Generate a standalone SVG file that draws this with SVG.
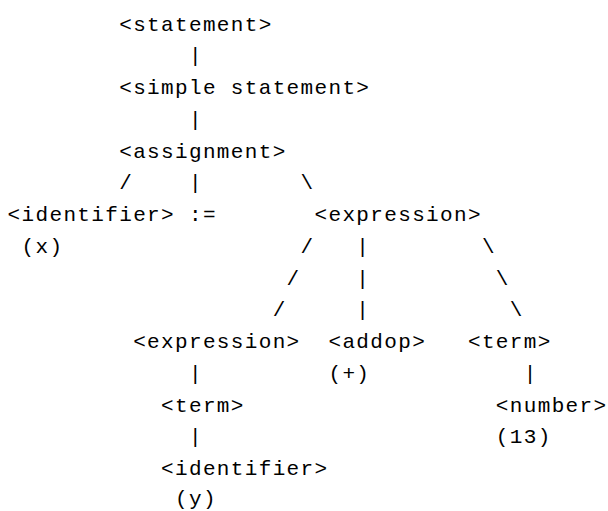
<svg xmlns="http://www.w3.org/2000/svg" width="608" height="511" viewBox="0 0 608 511">
  <style>
    text { font-family: "Liberation Mono", "DejaVu Sans Mono", monospace; font-size: 21px; letter-spacing: 1.35px; fill: #000; white-space: pre; }
  </style>
  <rect width="608" height="511" fill="#fff"/>

  <!-- tree branches, typed as characters on a 13.95px grid -->
  <g id="connectors">
    <text x="188.95" y="62.25">|</text>
    <text x="188.95" y="125.75">|</text>
    <text x="119.2" y="189.25">/</text>
    <text x="188.95" y="189.25">|</text>
    <text x="300.55" y="189.25">\</text>
    <text x="300.55" y="252.75">/</text>
    <text x="356.35" y="252.75">|</text>
    <text x="481.9" y="252.75">\</text>
    <text x="286.6" y="284.5">/</text>
    <text x="356.35" y="284.5">|</text>
    <text x="495.85" y="284.5">\</text>
    <text x="272.65" y="316.25">/</text>
    <text x="356.35" y="316.25">|</text>
    <text x="509.8" y="316.25">\</text>
    <text x="188.95" y="379.75">|</text>
    <text x="523.75" y="379.75">|</text>
    <text x="188.95" y="443.25">|</text>
  </g>

  <g id="statement"><text x="119.2" y="30.5">&lt;statement&gt;</text></g>
  <g id="simple-statement"><text x="119.2" y="94">&lt;simple statement&gt;</text></g>
  <g id="assignment"><text x="119.2" y="157.5">&lt;assignment&gt;</text></g>
  <g id="identifier-x">
    <text x="7.6" y="221">&lt;identifier&gt;</text>
    <text x="21.55" y="252.75">(x)</text>
  </g>
  <g id="assign-op"><text x="188.95" y="221">:=</text></g>
  <g id="expression"><text x="314.5" y="221">&lt;expression&gt;</text></g>
  <g id="expression-left"><text x="133.15" y="348">&lt;expression&gt;</text></g>
  <g id="addop">
    <text x="328.45" y="348">&lt;addop&gt;</text>
    <text x="328.45" y="379.75">(+)</text>
  </g>
  <g id="term-right"><text x="467.95" y="348">&lt;term&gt;</text></g>
  <g id="term-left"><text x="161.05" y="411.5">&lt;term&gt;</text></g>
  <g id="number">
    <text x="495.85" y="411.5">&lt;number&gt;</text>
    <text x="495.85" y="443.25">(13)</text>
  </g>
  <g id="identifier-y">
    <text x="161.05" y="475">&lt;identifier&gt;</text>
    <text x="175" y="504.5">(y)</text>
  </g>
</svg>
